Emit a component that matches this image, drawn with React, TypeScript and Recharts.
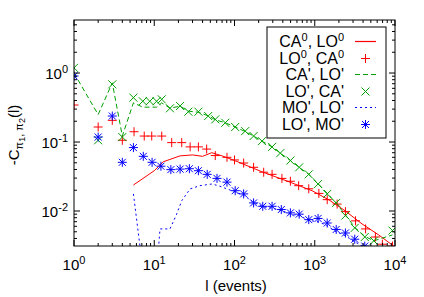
import React from 'react';
import { LineChart, Line, XAxis, YAxis } from 'recharts';

const W = 424;
const H = 297;
const PLOT = { left: 74, right: 395, top: 20, bottom: 246 };
const FONT = '"Liberation Sans", Arial, Helvetica, sans-serif';

const RED = '#ff0000';
const GREEN = '#00a000';
const BLUE = '#0000ff';

// CA0, LO0 (solid red line)
const caLo0L = [5.5, 10, 13, 21, 30, 40, 52, 70, 100, 220, 500, 925, 1500, 2380, 3880, 6270, 9640];
const caLo0V = [0.0238, 0.0384, 0.0518, 0.063, 0.065, 0.062, 0.07, 0.063, 0.054, 0.037, 0.026, 0.0197, 0.0145, 0.0101, 0.0065, 0.0045, 0.0031];

// LO0, CA0 (red plus)
const loCa0L = [1, 2, 3, 4, 5.6, 7.5, 9.3, 12.4, 16.5, 22, 28, 35.5, 45, 57.6, 80.6, 100, 130, 173, 231, 294, 390, 497, 630, 842, 1125, 1430, 1900, 2410, 3220, 4300, 5700, 6960, 9300];
const loCa0V = [0.344, 0.165, 0.206, 0.106, 0.141, 0.122, 0.122, 0.122, 0.098, 0.098, 0.085, 0.085, 0.079, 0.0636, 0.06, 0.055, 0.0496, 0.043, 0.0365, 0.034, 0.0297, 0.027, 0.0233, 0.021, 0.018, 0.0146, 0.0126, 0.0098, 0.0072, 0.0055, 0.0042, 0.0033, 0.0031];

// CA', LO' (green dashed line)
const caLoPL = [1, 2, 3, 4, 5.5, 7.2, 10.7, 12.4, 15.7, 21, 26.6, 35.5, 47, 57.6, 76.7, 102, 136, 173, 220, 294, 372, 497, 640, 842, 1100, 1430, 1850, 2410, 3150, 4200, 5440, 9300];
const caLoPV = [1.0, 0.25, 0.72, 0.122, 0.37, 0.32, 0.32, 0.37, 0.31, 0.33, 0.28, 0.27, 0.24, 0.21, 0.19, 0.165, 0.142, 0.122, 0.103, 0.085, 0.069, 0.054, 0.043, 0.034, 0.025, 0.018, 0.013, 0.0088, 0.0058, 0.0043, 0.0037, 0.0045];

// LO', CA' (green x)
const loCaPL = [1, 2, 3, 4, 5.5, 7.2, 8.8, 10.7, 12.4, 15.7, 21, 26.6, 35.5, 47, 57.6, 76.7, 102, 136, 173, 220, 294, 372, 497, 640, 842, 1100, 1430, 1850, 2410, 3150, 4200, 5440, 9300];
const loCaPV = [1.19, 0.106, 0.686, 0.118, 0.44, 0.39, 0.39, 0.39, 0.416, 0.308, 0.333, 0.275, 0.275, 0.238, 0.213, 0.19, 0.165, 0.144, 0.122, 0.103, 0.085, 0.069, 0.0539, 0.043, 0.034, 0.0246, 0.0177, 0.0131, 0.0086, 0.0057, 0.0042, 0.0037, 0.0052];

// MO', LO' (blue dotted line)
const moLoPL = [5.5, 7.5, 10.5, 11.8, 15.7, 19, 22, 28, 37, 52, 63, 80, 100, 130, 170, 225, 300, 400, 500, 650, 850, 1100, 1400, 1850, 2400, 3100, 4200];
const moLoPV = [0.0177, 0.001, 0.001, 0.0055, 0.0055, 0.009, 0.0141, 0.0209, 0.0233, 0.0246, 0.0233, 0.021, 0.019, 0.017, 0.0135, 0.0115, 0.011, 0.01, 0.009, 0.0085, 0.0073, 0.007, 0.0062, 0.005, 0.0044, 0.0036, 0.003];

// LO', MO' (blue asterisk)
const loMoPL = [1, 2, 3, 4, 5.5, 7.3, 9.4, 12.1, 16.1, 21, 27.4, 35.5, 45.7, 60.5, 80.6, 102, 130, 173, 225, 294, 383, 497, 640, 842, 1100, 1430, 1850, 2410, 3150, 4200];
const loMoPV = [0.905, 0.118, 0.238, 0.0508, 0.083, 0.062, 0.0508, 0.0446, 0.0398, 0.0405, 0.041, 0.0384, 0.034, 0.0297, 0.0262, 0.0197, 0.0177, 0.0131, 0.0117, 0.0117, 0.0105, 0.0094, 0.009, 0.0075, 0.0078, 0.0067, 0.0054, 0.0048, 0.0039, 0.0031];

const Y_MIN = 0.00311;
const Y_MAX = 5.87;

const toPoints = (ls: number[], vs: number[]) => ls.map((l, i) => ({ l, v: vs[i] }));

const decadeTicks = (from: number, to: number, lo: number, hi: number) => {
  const out: number[] = [];
  for (let e = from; e <= to; e++) {
    for (let k = 1; k <= 9; k++) {
      const v = Number((k * Math.pow(10, e)).toPrecision(3));
      if (v >= lo && v <= hi) out.push(v);
    }
  }
  return out;
};

const X_TICKS = decadeTicks(0, 4, 1, 10000);
const Y_TICKS = decadeTicks(-3, 0, Y_MIN, Y_MAX);

const isMajor = (v: number) => Math.abs(Math.log10(v) - Math.round(Math.log10(v))) < 1e-6;

const XTick = (props: any) => {
  const { x, payload } = props;
  const v = payload.value;
  const major = isMajor(v);
  const len = major ? 6 : 3;
  return (
    <g>
      <line x1={x} x2={x} y1={PLOT.bottom} y2={PLOT.bottom - len} stroke="#000" />
      <line x1={x} x2={x} y1={PLOT.top} y2={PLOT.top + len} stroke="#000" />
      {major && (
        <text x={x} y={PLOT.bottom + 24} textAnchor="middle" fontFamily={FONT} fontSize={15} fill="#000">
          10<tspan dy={-6} fontSize={11}>{Math.round(Math.log10(v))}</tspan>
        </text>
      )}
    </g>
  );
};

const YTick = (props: any) => {
  const { y, payload } = props;
  const v = payload.value;
  const major = isMajor(v);
  const len = major ? 6 : 3;
  return (
    <g>
      <line x1={PLOT.left} x2={PLOT.left + len} y1={y} y2={y} stroke="#000" />
      <line x1={PLOT.right} x2={PLOT.right - len} y1={y} y2={y} stroke="#000" />
      {major && (
        <text x={PLOT.left - 6} y={y + 6} textAnchor="end" fontFamily={FONT} fontSize={15} fill="#000">
          10<tspan dy={-6} fontSize={11}>{Math.round(Math.log10(v))}</tspan>
        </text>
      )}
    </g>
  );
};

const Plus = ({ cx, cy, color }: any) => (
  <path d={`M${cx - 4.5},${cy}h9M${cx},${cy - 4.5}v9`} stroke={color} strokeWidth={1} fill="none" />
);
const Cross = ({ cx, cy, color }: any) => (
  <path d={`M${cx - 4},${cy - 4}l8,8M${cx - 4},${cy + 4}l8,-8`} stroke={color} strokeWidth={1} fill="none" />
);
const Star = ({ cx, cy, color }: any) => (
  <path
    d={`M${cx - 4.5},${cy}h9M${cx},${cy - 4.5}v9M${cx - 3.5},${cy - 3.5}l7,7M${cx - 3.5},${cy + 3.5}l7,-7`}
    stroke={color}
    strokeWidth={1}
    fill="none"
  />
);

const markerDot = (Shape: any, color: string, name: string) => (p: any) =>
  p.cx == null || p.cy == null ? <g key={`${name}-${p.index}`} /> : <Shape key={`${name}-${p.index}`} cx={p.cx} cy={p.cy} color={color} />;

const legendRows = [
  { a: 'CA', b: ', LO', sup: true, kind: 'line', color: RED, dash: undefined },
  { a: 'LO', b: ', CA', sup: true, kind: 'plus', color: RED },
  { a: "CA'", b: ", LO'", sup: false, kind: 'line', color: GREEN, dash: '5 3' },
  { a: "LO'", b: ", CA'", sup: false, kind: 'cross', color: GREEN },
  { a: "MO'", b: ", LO'", sup: false, kind: 'line', color: BLUE, dash: '2 3' },
  { a: "LO'", b: ", MO'", sup: false, kind: 'star', color: BLUE },
];

const Overlay = () => (
  <svg width={W} height={H} style={{ position: 'absolute', left: 0, top: 0, pointerEvents: 'none' }}>
    <rect x={PLOT.left} y={PLOT.top} width={PLOT.right - PLOT.left} height={PLOT.bottom - PLOT.top} fill="none" stroke="#000" />
    {/* legend */}
    <rect x={267} y={27} width={119} height={111} fill="#fff" stroke="#000" />
    {legendRows.map((r, i) => {
      const cy = Math.round(41 + i * 16.5) + 0.5;
      return (
        <g key={i}>
          <text x={344} y={cy + 5.5} textAnchor="end" fontFamily={FONT} fontSize={16} fill="#000">
            {r.sup ? (
              <>
                {r.a}
                <tspan dy={-6} fontSize={11}>0</tspan>
                <tspan dy={6}>{r.b}</tspan>
                <tspan dy={-6} fontSize={11}>0</tspan>
              </>
            ) : (
              r.a + r.b
            )}
          </text>
          {r.kind === 'line' && <line x1={355} x2={376} y1={cy} y2={cy} stroke={r.color} strokeWidth={1.2} strokeDasharray={r.dash} />}
          {r.kind === 'plus' && <Plus cx={365.5} cy={cy} color={r.color} />}
          {r.kind === 'cross' && <Cross cx={365.5} cy={cy} color={r.color} />}
          {r.kind === 'star' && <Star cx={365.5} cy={cy} color={r.color} />}
        </g>
      );
    })}
    {/* axis titles */}
    <text x={236} y={291} textAnchor="middle" fontFamily={FONT} fontSize={15} fill="#000">
      l (events)
    </text>
    <text x={19} y={135} transform="rotate(-90 19 135)" textAnchor="middle" fontFamily={FONT} fontSize={15} fill="#000">
      -C
      <tspan dy={4} fontSize={11}>π</tspan>
      <tspan dy={2} fontSize={9}>1</tspan>
      <tspan dy={-2} fontSize={11}>, π</tspan>
      <tspan dy={2} fontSize={9}>2</tspan>
      <tspan dy={-6}>(l)</tspan>
    </text>
  </svg>
);

export default function App() {
  return (
    <div style={{ position: 'absolute', left: 0, top: 0, width: W, height: H, background: '#fff' }}>
      <LineChart width={W} height={H} margin={{ top: PLOT.top, right: W - PLOT.right, bottom: 0, left: 0 }}>
        <XAxis
          type="number"
          dataKey="l"
          scale="log"
          domain={[1, 10000]}
          ticks={X_TICKS}
          interval={0}
          tick={<XTick />}
          tickLine={false}
          axisLine={false}
          height={H - PLOT.bottom}
          allowDataOverflow
        />
        <YAxis
          type="number"
          scale="log"
          domain={[Y_MIN, Y_MAX]}
          ticks={Y_TICKS}
          interval={0}
          tick={<YTick />}
          tickLine={false}
          axisLine={false}
          width={PLOT.left}
          allowDataOverflow
        />
        <Line data={toPoints(caLo0L, caLo0V)} dataKey="v" type="linear" stroke={RED} strokeWidth={1} dot={false} activeDot={false} isAnimationActive={false} />
        <Line data={toPoints(loCa0L, loCa0V)} dataKey="v" type="linear" stroke="none" dot={markerDot(Plus, RED, 'p')} activeDot={false} isAnimationActive={false} />
        <Line data={toPoints(caLoPL, caLoPV)} dataKey="v" type="linear" stroke={GREEN} strokeWidth={1} strokeDasharray="5 3" dot={false} activeDot={false} isAnimationActive={false} />
        <Line data={toPoints(loCaPL, loCaPV)} dataKey="v" type="linear" stroke="none" dot={markerDot(Cross, GREEN, 'x')} activeDot={false} isAnimationActive={false} />
        <Line data={toPoints(moLoPL, moLoPV)} dataKey="v" type="linear" stroke={BLUE} strokeWidth={1} strokeDasharray="2 3" dot={false} activeDot={false} isAnimationActive={false} />
        <Line data={toPoints(loMoPL, loMoPV)} dataKey="v" type="linear" stroke="none" dot={markerDot(Star, BLUE, 's')} activeDot={false} isAnimationActive={false} />
      </LineChart>
      <Overlay />
    </div>
  );
}
